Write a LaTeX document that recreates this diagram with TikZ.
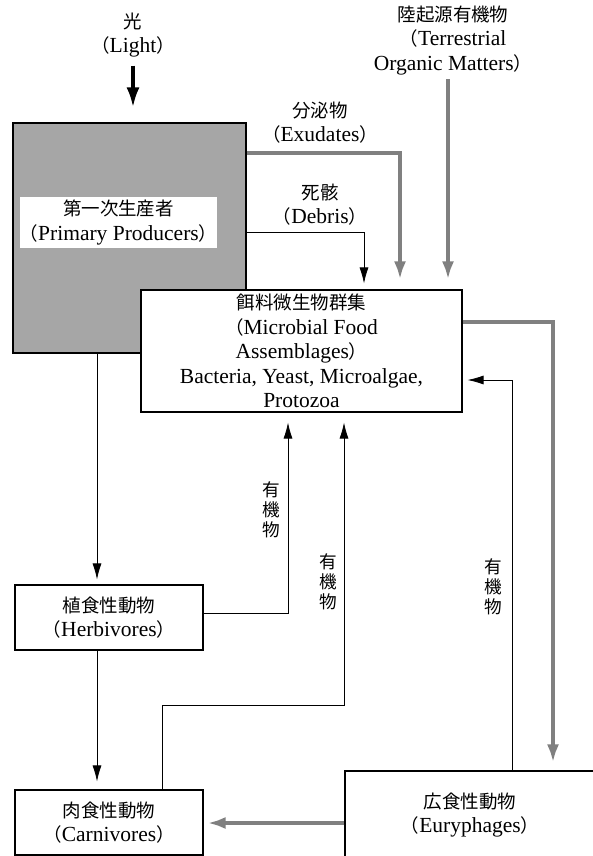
\documentclass[tikz,border=0pt]{standalone}
\usepackage{fontspec}
\setmainfont{Liberation Serif}
\newfontfamily\jpfont[Scale=0.86]{Noto Sans CJK JP}
\newcommand{\jp}[1]{{\jpfont #1}}
\newcommand{\lpar}{{\jpfont （}}
\newcommand{\rpar}{{\jpfont ）}}
\usepackage{tikz}
\usetikzlibrary{arrows.meta,positioning,calc}

\begin{document}
\begin{tikzpicture}[x=1pt, y=-1pt,
    every node/.style={font=\fontsize{21.5}{24.5}\selectfont},
    box/.style={rectangle, draw=black, line width=1.1pt, fill=white, align=center, inner sep=0pt},
    lbl/.style={align=center, inner sep=0pt},
    vlbl/.style={align=center, inner sep=0pt, font=\jpfont\fontsize{20.5}{20}\selectfont},
    arrow/.style={-{Latex[length=16pt,width=9pt]}, line width=0.8pt},
    bigarrow/.style={-{Latex[length=20pt,width=13pt]}, line width=3.5pt},
    garrow/.style={-{Latex[length=18pt,width=12pt]}, draw=black!50, line width=4.5pt}
]
\useasboundingbox (0,0) rectangle (592,856);

% Sources
\node[lbl] (light) at (133,35) {\jp{光}\\\lpar Light\rpar};
\node[lbl] (terr) at (453,40.5) {\jp{陸起源有機物}\\\lpar Terrestrial\\Organic Matters\rpar};

% Primary producers
\node[box, fill=black!35, minimum width=233pt, minimum height=230pt] (prim) at (129.5,238) {};
\node[lbl, fill=white, minimum width=193pt, minimum height=51pt] (primtxt) at (118.5,222.5) {\jp{第一次生産者}\\\lpar Primary Producers\rpar};

% Microbial food assemblages
\node[box, minimum width=321pt, minimum height=122pt] (mic) at (301.5,351) {\jp{餌料微生物群集}\\\lpar Microbial Food\\Assemblages\rpar\\Bacteria, Yeast, Microalgae,\\Protozoa};

% Animals
\node[box, minimum width=188pt, minimum height=65pt] (herb) at (109,617.5) {\jp{植食性動物}\\\lpar Herbivores\rpar};
\node[box, minimum width=188pt, minimum height=65pt] (carn) at (109,822.5) {\jp{肉食性動物}\\\lpar Carnivores\rpar};
\node[box, minimum width=250pt, minimum height=88pt] (eury) at (470,815) {\jp{広食性動物}\\\lpar Euryphages\rpar};

% Flow labels
\node[lbl] (exud) at (320,122.5) {\jp{分泌物}\\\lpar Exudates\rpar};
\node[lbl] (debr) at (320,204.5) {\jp{死骸}\\\lpar Debris\rpar};
\node[vlbl] (org1) at (271,510) {有\\機\\物};
\node[vlbl] (org2) at (328,582) {有\\機\\物};
\node[vlbl] (org3) at (493,587) {有\\機\\物};

% Anchor points
\coordinate (tin) at ([xshift=-5pt]terr.south);
\coordinate (exi) at ([xshift=98.5pt]mic.north);
\coordinate (dei) at ([xshift=62.5pt]mic.north);
\coordinate (ph) at ([xshift=-12pt]herb.north);
\coordinate (hm) at ([xshift=-13.5pt]mic.south);
\coordinate (cm) at ([xshift=42.5pt]mic.south);
\coordinate (em) at ([yshift=-29pt]mic.east);
\coordinate (me) at ([xshift=83pt]eury.north);
\coordinate (ec) at ([yshift=-8pt]eury.west);

% Arrows
\draw[bigarrow, shorten <=8pt, shorten >=15pt] (light.south) -- (light.south |- prim.north);
\draw[garrow, shorten <=4pt, shorten >=10pt] (tin) -- (tin |- mic.north);
\draw[garrow, shorten >=10pt] ([yshift=85pt]prim.east) -| (exi);
\draw[arrow, shorten >=6pt] ([yshift=6pt]prim.east) -| (dei);
\draw[arrow, shorten >=5pt] (ph |- prim.south) -- (ph);
\draw[arrow, shorten >=8pt] ([xshift=-12pt]herb.south) -- ([xshift=-12pt]carn.north);
\draw[arrow, shorten >=10pt] ([yshift=4.5pt]herb.east) -| (hm);
\draw[arrow, shorten >=10pt] ([xshift=53pt]carn.north) -- ++(0,-84) -| (cm);
\draw[arrow, shorten >=5pt] ([xshift=42pt]eury.north) |- (em);
\draw[garrow, shorten >=8pt] ([yshift=29pt]mic.east) -| (me);
\draw[garrow, shorten >=4pt] (ec) -- (ec -| carn.east);
\end{tikzpicture}
\end{document}
